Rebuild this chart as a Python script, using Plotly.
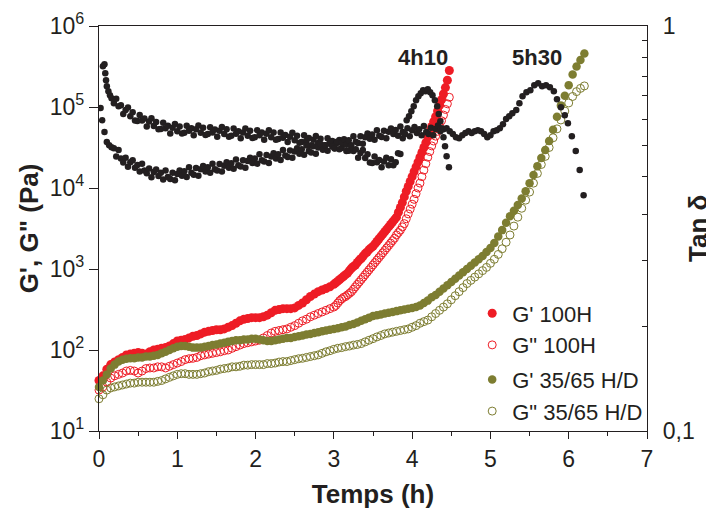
import plotly.graph_objects as go

# ---------------- data ----------------
# sample times (h) of the 100H rheology run: every 0.05 h up to 3 h, then every 0.025 h
t_100h = [round(0.05 * i, 3) for i in range(61)] + [round(3.025 + 0.025 * i, 3) for i in range(59)]

g1_100h = [42, 48, 58, 66, 71, 76, 81, 87, 89, 91,
           93, 91, 89, 95, 100, 102, 105, 107, 112, 120,
           129, 132, 135, 141, 148, 151, 158, 166, 170, 174,
           178, 178, 182, 191, 200, 214, 229, 240, 245, 251,
           251, 251, 257, 269, 288, 309, 316, 324, 324, 324,
           331, 355, 380, 417, 457, 490, 525, 550, 575, 603,
           646,
           676, 708, 741, 776, 813, 851, 891, 955, 1023, 1072,
           1122, 1202, 1288, 1349, 1445, 1549, 1622, 1738, 1820, 1905,
           2042, 2188, 2344, 2512, 2692, 2884, 3090, 3311, 3548, 3802,
           4074, 4365, 5012, 5754, 6607, 7762, 9120, 10470, 12020, 13800,
           15850, 18200, 20890, 23990, 27540, 31620, 36310, 42660, 50120, 57540,
           66070, 75860, 89130, 104700, 123000, 144500, 173800, 213800, 281800]

g2_100h = [32, 35, 40, 45, 48, 50, 52, 55, 56, 55,
           52, 55, 59, 60, 60, 62, 62, 60, 63, 66,
           69, 72, 76, 78, 79, 81, 85, 87, 89, 91,
           93, 95, 98, 100, 105, 110, 115, 120, 123, 126,
           129, 132, 141, 151, 162, 170, 174, 178, 182, 191,
           200, 214, 229, 240, 257, 269, 282, 295, 309, 324,
           339,
           355, 380, 407, 427, 447, 457, 479, 501, 525, 562,
           603, 646, 692, 741, 794, 851, 912, 977, 1047, 1122,
           1202, 1288, 1380, 1479, 1585, 1698, 1820, 1950, 2089, 2239,
           2399, 2630, 2818, 3020, 3311, 3631, 4169, 4786, 5495, 6310,
           7244, 8511, 10000, 11480, 13800, 16600, 19950, 23990, 28180, 33110,
           38020, 43650, 50120, 58880, 67610, 79430, 93330, 109600, 131800]

# sample times (h) of the 35/65 H/D run: every 0.05 h
t_3565 = [round(0.05 * i, 2) for i in range(125)]

g1_3565 = [35, 42, 50, 59, 66, 72, 76, 78, 79, 79,
           81, 81, 83, 83, 85, 87, 91, 95, 100, 105,
           110, 112, 112, 110, 107, 107, 107, 110, 112, 115,
           117, 120, 123, 126, 129, 132, 132, 135, 135, 138,
           138, 135, 132, 129, 129, 132, 135, 138, 141, 141,
           145, 148, 151, 155, 158, 162, 166, 170, 174, 178,
           182, 186, 191, 195, 204, 209, 219, 229, 240, 251,
           263, 269, 275, 282, 288, 295, 302, 309, 316, 324,
           331, 339, 355, 380, 407, 447, 479, 525, 575, 631,
           692, 759, 832, 912, 1000, 1096, 1202, 1318, 1445, 1622,
           1820, 2089, 2512, 3020, 3715, 4467, 5248, 6166, 7413, 9120,
           11480, 14450, 18620, 23440, 29510, 38020, 52480, 75860, 104700, 138000,
           186200, 251200, 316200, 380200, 457100]

g2_3565 = [25, 28, 32, 34, 35, 36, 37, 38, 39, 39,
           40, 40, 40, 40, 40, 41, 42, 44, 46, 48,
           50, 51, 51, 50, 50, 50, 51, 52, 54, 55,
           56, 58, 59, 60, 62, 62, 63, 65, 65, 66,
           66, 66, 66, 68, 68, 69, 71, 72, 72, 74,
           76, 78, 79, 81, 83, 85, 87, 91, 95, 98,
           102, 105, 107, 110, 112, 115, 117, 120, 126, 132,
           138, 145, 151, 158, 162, 166, 170, 174, 178, 182,
           191, 200, 214, 224, 234, 257, 282, 309, 339, 372,
           417, 468, 525, 589, 661, 724, 794, 871, 955, 1047,
           1175, 1318, 1514, 1778, 2138, 2630, 3388, 4365, 5623, 7079,
           8913, 11480, 15140, 19500, 24550, 31620, 41690, 53700, 69180, 89130,
           112200, 134900, 154900, 169800, 182000]

# tan delta, 100H run
tan_100h_t = ([0.05, 0.07, 0.08, 0.09, 0.10, 0.12, 0.14, 0.16]
              + [round(0.19 + 0.03 * i, 2) for i in range(123)]
              + [3.88, 3.93, 3.96, 3.99, 4.02, 4.05, 4.08, 4.11, 4.14, 4.17, 4.20,
                 4.23, 4.26, 4.29, 4.32, 4.34, 4.36, 4.38, 4.40, 4.42, 4.44, 4.47])
tan_100h = [0.795, 0.804, 0.764, 0.735, 0.710, 0.690, 0.675, 0.663,
            0.645, 0.661, 0.634, 0.637, 0.606, 0.620, 0.629, 0.599, 0.612, 0.584,
            0.583, 0.603, 0.584, 0.591, 0.565, 0.581, 0.592, 0.566, 0.579, 0.556,
            0.557, 0.577, 0.559, 0.567, 0.543, 0.561, 0.573, 0.550, 0.565, 0.543,
            0.545, 0.567, 0.551, 0.559, 0.537, 0.556, 0.568, 0.545, 0.561, 0.538,
            0.541, 0.562, 0.546, 0.555, 0.533, 0.551, 0.563, 0.541, 0.556, 0.533,
            0.536, 0.558, 0.542, 0.550, 0.528, 0.546, 0.558, 0.536, 0.551, 0.529,
            0.531, 0.553, 0.537, 0.546, 0.524, 0.542, 0.553, 0.531, 0.546, 0.524,
            0.526, 0.546, 0.530, 0.538, 0.517, 0.533, 0.545, 0.522, 0.536, 0.515,
            0.517, 0.537, 0.521, 0.529, 0.508, 0.524, 0.535, 0.514, 0.527, 0.506,
            0.508, 0.528, 0.512, 0.520, 0.498, 0.514, 0.523, 0.500, 0.513, 0.491,
            0.492, 0.508, 0.491, 0.496, 0.473, 0.486, 0.494, 0.472, 0.482, 0.460,
            0.459, 0.476, 0.461, 0.467, 0.448, 0.463, 0.473, 0.453, 0.469, 0.453,
            0.461, 0.485, 0.483,
            0.528, 0.585, 0.599, 0.616, 0.634, 0.656, 0.671, 0.682, 0.694, 0.690, 0.698,
            0.686, 0.675, 0.656, 0.634, 0.606, 0.582, 0.559, 0.531, 0.505, 0.477, 0.448]

# tan delta, 35/65 H/D run
tan_3565_t = ([0.02, 0.04, 0.07, 0.10, 0.13, 0.16]
              + [round(0.19 + 0.03 * i, 2) for i in range(140)]
              + [4.40, 4.44, 4.48, 4.52, 4.56, 4.60, 4.64, 4.68, 4.72, 4.76, 4.80, 4.84,
                 4.88, 4.92, 4.96, 5.00, 5.04, 5.08, 5.12, 5.16, 5.20, 5.24, 5.28, 5.33,
                 5.37, 5.41, 5.46, 5.51, 5.56, 5.61, 5.66, 5.71, 5.76, 5.81, 5.85, 5.90,
                 5.95, 5.99, 6.04, 6.09, 6.14, 6.19])
tan_3565 = [0.627, 0.585, 0.547, 0.517, 0.508, 0.502,
            0.499, 0.476, 0.494, 0.471, 0.460, 0.473, 0.449, 0.461, 0.466, 0.447,
            0.454, 0.437, 0.457, 0.440, 0.433, 0.445, 0.423, 0.436, 0.442, 0.426,
            0.434, 0.418, 0.440, 0.424, 0.419, 0.434, 0.416, 0.431, 0.440, 0.427,
            0.438, 0.424, 0.448, 0.434, 0.429, 0.446, 0.427, 0.443, 0.451, 0.437,
            0.448, 0.434, 0.457, 0.443, 0.440, 0.456, 0.437, 0.452, 0.461, 0.447,
            0.458, 0.444, 0.468, 0.453, 0.450, 0.466, 0.447, 0.464, 0.473, 0.459,
            0.471, 0.457, 0.482, 0.466, 0.463, 0.480, 0.459, 0.476, 0.485, 0.471,
            0.482, 0.467, 0.494, 0.479, 0.475, 0.493, 0.473, 0.490, 0.499, 0.484,
            0.496, 0.481, 0.507, 0.491, 0.487, 0.505, 0.484, 0.501, 0.511, 0.495,
            0.508, 0.492, 0.519, 0.504, 0.499, 0.518, 0.496, 0.515, 0.525, 0.509,
            0.522, 0.506, 0.534, 0.518, 0.514, 0.534, 0.512, 0.531, 0.543, 0.527,
            0.540, 0.524, 0.553, 0.536, 0.532, 0.551, 0.528, 0.548, 0.558, 0.541,
            0.554, 0.536, 0.565, 0.547, 0.541, 0.559, 0.534, 0.553, 0.563, 0.544,
            0.556, 0.537, 0.566, 0.547, 0.541, 0.561, 0.537, 0.557, 0.568, 0.550,
            0.556, 0.559, 0.550,
            0.541, 0.531, 0.528, 0.537, 0.544, 0.550, 0.544, 0.550, 0.553, 0.550,
            0.541, 0.531, 0.537, 0.550, 0.553, 0.559, 0.572, 0.589, 0.599, 0.609,
            0.620, 0.645, 0.671, 0.686, 0.694, 0.714, 0.722, 0.710, 0.714, 0.706,
            0.690, 0.659, 0.630, 0.602, 0.575, 0.534, 0.491, 0.441, 0.382]

# tick labels
x_tick_vals = [0, 1, 2, 3, 4, 5, 6, 7]
x_minor_vals = [0.5, 1.5, 2.5, 3.5, 4.5, 5.5, 6.5]
g_tick_vals = [1e1, 1e2, 1e3, 1e4, 1e5, 1e6]
g_tick_text = ["10<sup>1</sup>", "10<sup>2</sup>", "10<sup>3</sup>",
               "10<sup>4</sup>", "10<sup>5</sup>", "10<sup>6</sup>"]
tan_tick_vals = [0.1, 1]
tan_tick_text = ["0,1", "1"]
tan_minor_vals = [0.181, 0.263, 0.343, 0.426, 0.508, 0.589, 0.672, 0.751, 0.834, 0.922]

assert len(t_100h) == len(g1_100h) == len(g2_100h)
assert len(t_3565) == len(g1_3565) == len(g2_3565)
assert len(tan_100h_t) == len(tan_100h), (len(tan_100h_t), len(tan_100h))
assert len(tan_3565_t) == len(tan_3565), (len(tan_3565_t), len(tan_3565))

# ---------------- styling ----------------
FONT = "Liberation Sans, Arial, Helvetica, sans-serif"
INK = "#231f20"
RED = "#ee1c25"
OLIVE = "#7d7d31"

fig = go.Figure()

fig.add_trace(go.Scatter(x=t_100h, y=g1_100h, mode="markers", name="G' 100H",
                         legendgroup="a", cliponaxis=False,
                         marker=dict(symbol="circle", size=9, color=RED)))
fig.add_trace(go.Scatter(x=t_100h, y=g2_100h, mode="markers", name='G" 100H',
                         legendgroup="a", cliponaxis=False,
                         marker=dict(symbol="circle-open", size=8, color=RED,
                                     line=dict(width=1, color=RED))))
fig.add_trace(go.Scatter(x=t_3565, y=g1_3565, mode="markers", name="G' 35/65 H/D",
                         legendgroup="b", cliponaxis=False,
                         marker=dict(symbol="circle", size=8.5, color=OLIVE)))
fig.add_trace(go.Scatter(x=t_3565, y=g2_3565, mode="markers", name='G" 35/65 H/D',
                         legendgroup="b", cliponaxis=False,
                         marker=dict(symbol="circle-open", size=8, color=OLIVE,
                                     line=dict(width=1, color=OLIVE))))
fig.add_trace(go.Scatter(x=tan_100h_t, y=tan_100h, mode="markers", yaxis="y2",
                         showlegend=False, name="tan δ 100H",
                         marker=dict(symbol="circle", size=6.5, color=INK)))
fig.add_trace(go.Scatter(x=tan_3565_t, y=tan_3565, mode="markers", yaxis="y2",
                         showlegend=False, name="tan δ 35/65 H/D",
                         marker=dict(symbol="circle", size=6.5, color=INK)))

axis_common = dict(showline=True, linecolor=INK, linewidth=1.3, showgrid=False,
                   zeroline=False, tickcolor=INK, tickwidth=1.3,
                   tickfont=dict(family=FONT, size=23, color=INK))
title_font = dict(family=FONT, size=26, color=INK)

# the page body adds an 8 px offset, so the figure is 8 px smaller than the window
fig.update_layout(
    width=706, height=502,
    margin=dict(l=91, r=67, t=18, b=79, autoexpand=False),
    plot_bgcolor="white", paper_bgcolor="white",
    font=dict(family=FONT, color=INK, size=22),
    xaxis=dict(range=[0, 7], tickvals=x_tick_vals, ticks="outside", ticklen=7,
               mirror=True,
               minor=dict(tickvals=x_minor_vals, ticks="outside",
                          ticklen=4, tickcolor=INK, tickwidth=1.3),
               title=dict(text="<b>Temps (h)</b>", font=title_font, standoff=14),
               **axis_common),
    yaxis=dict(type="log", range=[1, 6], tickvals=g_tick_vals, ticktext=g_tick_text,
               ticks="outside", ticklen=9, **axis_common),
    yaxis2=dict(type="log", range=[-1, 0], overlaying="y", side="right",
                tickvals=tan_tick_vals, ticktext=tan_tick_text, ticks="inside", ticklen=6,
                minor=dict(tickvals=tan_minor_vals, ticks="inside", ticklen=5,
                           tickcolor=INK, tickwidth=1.3),
                ticklabelstandoff=10, **axis_common),
    legend=dict(x=0.681, y=0.342, xanchor="left", yanchor="top",
                bgcolor="rgba(0,0,0,0)", tracegroupgap=3, traceorder="grouped",
                font=dict(family=FONT, size=22, color=INK)),
    annotations=[
        dict(x=-0.128, y=0.5, xref="paper", yref="paper", text="<b>G', G\" (Pa)</b>",
             textangle=-90, showarrow=False, xanchor="center", yanchor="middle",
             font=title_font),
        dict(x=1.092, y=0.5, xref="paper", yref="paper", text="<b>Tan δ</b>",
             textangle=-90, showarrow=False, xanchor="center", yanchor="middle",
             font=title_font),
        dict(x=4.14, y=0.923, xref="x", yref="paper", text="<b>4h10</b>", showarrow=False,
             xanchor="center", yanchor="middle",
             font=dict(family=FONT, size=22, color=INK)),
        dict(x=5.60, y=0.923, xref="x", yref="paper", text="<b>5h30</b>", showarrow=False,
             xanchor="center", yanchor="middle",
             font=dict(family=FONT, size=22, color=INK)),
    ],
)

fig.write_html("out.html")
